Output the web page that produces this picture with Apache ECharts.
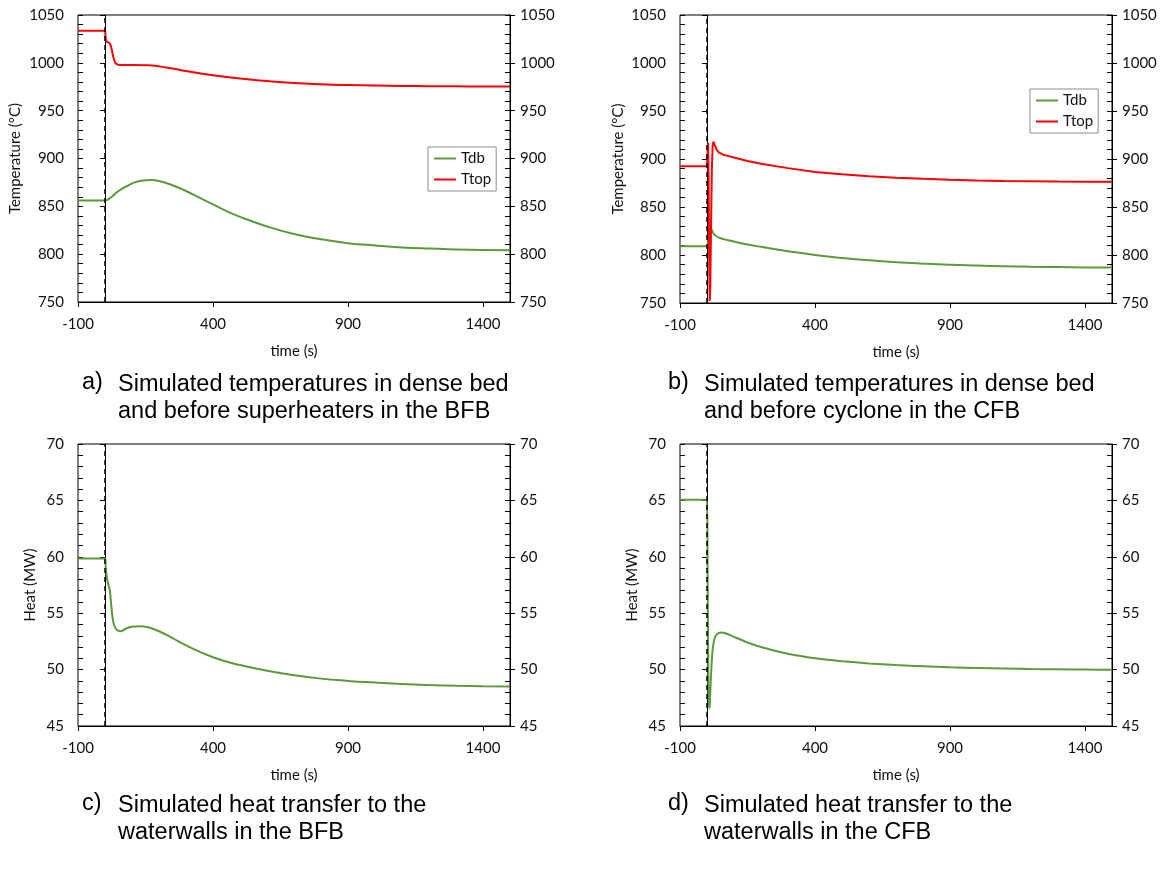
<!DOCTYPE html>
<html>
<head>
<meta charset="utf-8">
<script src="https://cdn.jsdelivr.net/npm/echarts@6/dist/echarts.min.js"></script>
<style>
  html, body { margin: 0; padding: 0; background: #fff; }
  #main { width: 1167px; height: 879px; }
</style>
</head>
<body>
<div id="main"></div>
<script>
// x ticks
var timeTicks = [-100, 400, 900, 1400];

// a) BFB temperatures
var timeTdbA = [-100, 0, 10, 25, 50, 80, 110, 140, 170, 200, 250, 300, 350, 400, 450, 500, 600, 700, 800, 900, 1000, 1100, 1200, 1300, 1400, 1500];
var tdbA = [856, 856, 857, 860, 866, 871, 875, 877, 877.5, 876.5, 872, 866, 859, 852, 845, 839, 829, 821, 815.5, 811.5, 809, 807, 805.8, 805, 804.4, 804];
var timeTtopA = [-100, 0, 2, 5, 12, 18, 24, 30, 36, 42, 50, 60, 100, 160, 200, 250, 300, 400, 500, 600, 700, 800, 900, 1000, 1100, 1200, 1300, 1400, 1500];
var ttopA = [1033.5, 1033.5, 1027, 1022.5, 1021.5, 1020, 1015, 1007, 1001.5, 999, 998, 997.7, 997.7, 997.5, 996.3, 994, 991.5, 987, 983.5, 981, 979, 977.7, 976.8, 976.2, 975.8, 975.6, 975.4, 975.3, 975.2];

// b) CFB temperatures
var timeTdbB = [-100, 0, 4, 7, 10, 13, 18, 25, 35, 50, 70, 100, 150, 200, 300, 400, 500, 600, 700, 800, 900, 1000, 1100, 1200, 1300, 1400, 1500];
var tdbB = [809, 809, 812, 824, 830, 829, 826, 822, 819.5, 817.5, 816, 814, 811, 808.5, 804, 800, 797, 794.5, 792.5, 791, 789.8, 789, 788.3, 787.8, 787.4, 787.1, 787];
var timeTtopB = [-100, 0, 2, 4, 6, 8, 10, 12, 15, 18, 21, 24, 28, 35, 45, 60, 80, 100, 150, 200, 300, 400, 500, 600, 700, 800, 900, 1000, 1100, 1200, 1300, 1400, 1500];
var ttopB = [892.5, 892.5, 905, 917, 880, 800, 752, 765, 830, 890, 914, 918, 915, 910, 906.5, 904.5, 903, 901.5, 898, 895, 890.5, 886.5, 884, 882, 880.5, 879.3, 878.4, 877.7, 877.2, 876.9, 876.6, 876.4, 876.3];

// c) BFB heat to waterwalls
var timeC = [-100, 0, 3, 8, 14, 18, 24, 30, 38, 48, 58, 75, 100, 130, 160, 200, 250, 300, 400, 500, 600, 700, 800, 900, 1000, 1100, 1200, 1300, 1400, 1500];
var heatC = [59.85, 59.85, 59.0, 58.0, 57.4, 57.0, 55.5, 54.3, 53.7, 53.45, 53.4, 53.6, 53.8, 53.85, 53.75, 53.4, 52.8, 52.15, 51.1, 50.4, 49.9, 49.5, 49.2, 49.0, 48.85, 48.72, 48.63, 48.57, 48.53, 48.5];

// d) CFB heat to waterwalls
var timeD = [-100, 0, 2, 4, 6, 8, 10, 13, 17, 22, 30, 40, 55, 70, 100, 150, 200, 300, 400, 500, 600, 700, 800, 900, 1000, 1100, 1200, 1300, 1400, 1500];
var heatD = [65.05, 65.05, 60, 52, 47.5, 46.6, 46.8, 48.5, 50.5, 52.0, 52.9, 53.2, 53.3, 53.2, 52.9, 52.4, 52.0, 51.4, 51.0, 50.75, 50.55, 50.4, 50.3, 50.2, 50.15, 50.1, 50.05, 50.02, 50.0, 49.98];

var green = '#5b9a3b';
var red = '#ff0000';
var axisFont = 'Lato, "Open Sans", sans-serif';
var capFont = '"Liberation Sans", Arial, sans-serif';

function pairs(t, v) {
  return t.map(function (x, i) { return [x, v[i]]; });
}
function plain(v) { return String(v); }

var grids = [
  { left: 78, top: 15, width: 432, height: 287 },
  { left: 680, top: 15, width: 432, height: 288 },
  { left: 78, top: 444, width: 432, height: 282 },
  { left: 680, top: 444, width: 432, height: 282 }
];
var yRanges = [
  { min: 750, max: 1050, interval: 50, minor: 10, name: 'Temperature (°C)', gap: 55 },
  { min: 750, max: 1050, interval: 50, minor: 10, name: 'Temperature (°C)', gap: 54 },
  { min: 45, max: 70, interval: 5, minor: 1, name: 'Heat (MW)', gap: 40 },
  { min: 45, max: 70, interval: 5, minor: 1, name: 'Heat (MW)', gap: 40 }
];

var lineAxis = { show: true, lineStyle: { color: '#000', width: 1 } };
var labelStyle = { color: '#111', fontSize: 15, fontFamily: axisFont };

var xAxes = grids.map(function (g, i) {
  return {
    type: 'value', gridIndex: i, min: -100, max: 1500, interval: 500,
    axisLine: lineAxis,
    axisTick: { show: true, length: 5, lineStyle: { color: '#000' } },
    axisLabel: Object.assign({ margin: 15, showMaxLabel: false, formatter: plain }, labelStyle),
    splitLine: { show: false },
    name: 'time (s)', nameLocation: 'middle', nameGap: 42,
    nameTextStyle: labelStyle
  };
});

// major axes: labels + outward ticks
function yAxis(i, right) {
  var r = yRanges[i];
  var ax = {
    type: 'value', gridIndex: i, min: r.min, max: r.max, interval: r.interval,
    position: right ? 'right' : 'left',
    axisLine: lineAxis,
    axisTick: { show: true, length: 5, lineStyle: { color: '#000' } },
    axisLabel: Object.assign({ margin: right ? 10 : 14, formatter: plain }, labelStyle),
    splitLine: { show: false }
  };
  if (!right) {
    ax.name = r.name;
    ax.nameLocation = 'middle';
    ax.nameGap = r.gap;
    ax.nameTextStyle = labelStyle;
  }
  return ax;
}
// minor axes: only inward ticks
function yMinor(i, right) {
  var r = yRanges[i];
  return {
    type: 'value', gridIndex: i, min: r.min, max: r.max, interval: r.minor,
    position: right ? 'right' : 'left',
    axisLine: { show: false },
    axisTick: { show: true, inside: true, length: 5, lineStyle: { color: '#000' } },
    axisLabel: { show: false },
    splitLine: { show: false }
  };
}
var yAxes = [0, 1, 2, 3].map(function (i) { return yAxis(i, false); })
  .concat([0, 1, 2, 3].map(function (i) { return yAxis(i, true); }))
  .concat([0, 1, 2, 3].map(function (i) { return yMinor(i, false); }))
  .concat([0, 1, 2, 3].map(function (i) { return yMinor(i, true); }));

var startLine = {
  silent: true, symbol: 'none', label: { show: false },
  lineStyle: { color: '#000', type: [5, 4], width: 1.5 },
  data: [{ xAxis: 0 }]
};

function lineSeries(name, idx, data, color, withMark) {
  var s = {
    name: name, type: 'line', xAxisIndex: idx, yAxisIndex: idx,
    data: data, symbol: 'none', smooth: 0.5,
    lineStyle: { color: color, width: 2 }, itemStyle: { color: color },
    z: 3
  };
  if (withMark) s.markLine = startLine;
  return s;
}

var legendBase = {
  orient: 'vertical', data: ['Tdb', 'Ttop'], icon: 'rect',
  backgroundColor: '#fff', borderColor: '#8c8c8c', borderWidth: 1, borderRadius: 0,
  padding: [4, 5, 4, 6], itemGap: 6, itemWidth: 22, itemHeight: 2,
  textStyle: { color: '#111', fontSize: 15, fontFamily: axisFont }
};

function caption(x, y, letter, text) {
  return [
    { type: 'text', left: x, top: y, style: { text: letter, font: '23.5px ' + capFont, fill: '#000' } },
    { type: 'text', left: x + 36, top: y, style: { text: text, font: '23.5px ' + capFont, fill: '#000', lineHeight: 27 } }
  ];
}

var chart = echarts.init(document.getElementById('main'));
chart.setOption({
  animation: false,
  backgroundColor: '#fff',
  grid: grids.map(function (g) {
    return Object.assign({ show: true, borderColor: '#000', borderWidth: 1, backgroundColor: 'transparent' }, g);
  }),
  xAxis: xAxes,
  yAxis: yAxes,
  legend: [
    Object.assign({ left: 428, top: 147 }, legendBase),
    Object.assign({ left: 1030, top: 89 }, legendBase)
  ],
  series: [
    lineSeries('Tdb', 0, pairs(timeTdbA, tdbA), green, true),
    lineSeries('Ttop', 0, pairs(timeTtopA, ttopA), red, false),
    lineSeries('Tdb', 1, pairs(timeTdbB, tdbB), green, true),
    Object.assign(lineSeries('Ttop', 1, pairs(timeTtopB, ttopB), red, false), { smooth: false }),
    lineSeries('Heat', 2, pairs(timeC, heatC), green, true),
    Object.assign(lineSeries('Heat', 3, pairs(timeD, heatD), green, true), { smooth: 0.2 })
  ],
  graphic: [].concat(
    caption(82, 371, 'a)', 'Simulated temperatures in dense bed\nand before superheaters in the BFB'),
    caption(668, 371, 'b)', 'Simulated temperatures in dense bed\nand before cyclone in the CFB'),
    caption(82, 792, 'c)', 'Simulated heat transfer to the\nwaterwalls in the BFB'),
    caption(668, 792, 'd)', 'Simulated heat transfer to the\nwaterwalls in the CFB')
  )
});
</script>
</body>
</html>
